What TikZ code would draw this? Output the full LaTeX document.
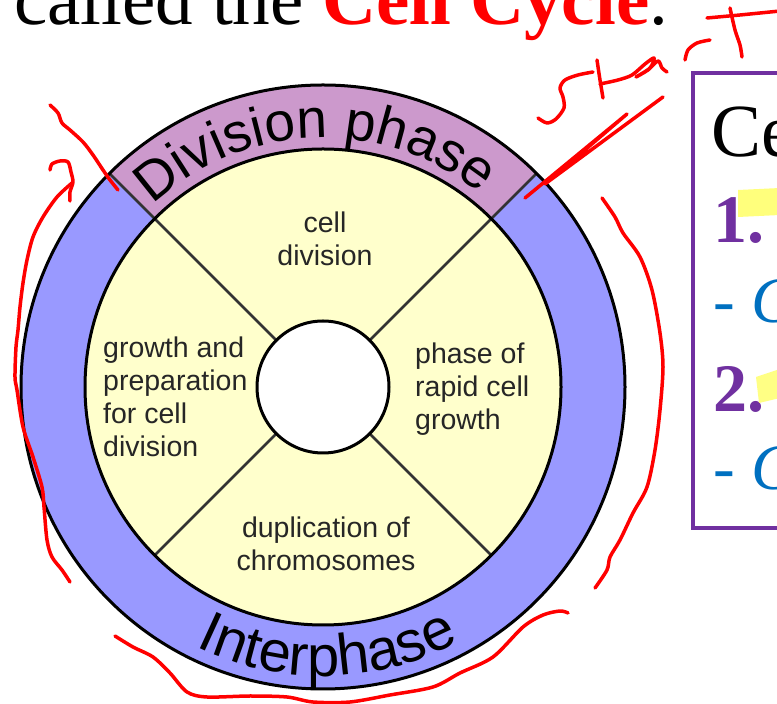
\documentclass[tikz,border=0pt]{standalone}
\usepackage{fontspec}
\setmainfont{Liberation Serif}
\newfontfamily\arial{Liberation Sans}
\usetikzlibrary{decorations.text}
\definecolor{DivPurple}{RGB}{204,153,204}
\definecolor{InterBlue}{RGB}{153,153,255}
\definecolor{CellYellow}{RGB}{255,255,204}
\definecolor{SlidePurple}{RGB}{112,48,160}
\definecolor{SlideBlue}{RGB}{0,112,192}
\definecolor{PenRed}{RGB}{255,0,0}
\definecolor{Marker}{RGB}{255,255,102}
\newcommand{\phasefont}{\arial\fontsize{55}{55}\selectfont}
\newcommand{\interfont}{\arial\fontsize{58}{58}\selectfont}
\newcommand{\notefont}{\arial\fontsize{28.5}{33}\selectfont}
\tikzset{
  ringline/.style={line width=3pt, black},
  spoke/.style={line width=2.5pt, black!80},
  cellnote/.style={font=\notefont, text=black!85, inner sep=0pt},
  slidetext/.style={anchor=base west, inner sep=0pt},
  ink/.style={line width=3.5pt, PenRed, line cap=round, line join=round},
}
\begin{document}
\begin{tikzpicture}[x=1pt, y=1pt]
\useasboundingbox (0,0) rectangle (777,704);
\fill[white] (0,0) rectangle (777,704);

% slide title, cut at the top
\node[slidetext, font=\fontsize{75}{75}\selectfont] (title) at (14,679)
  {called the \textcolor{red}{\textbf{Cell Cycle}}.};

% cycle wheel
\coordinate (c) at (323,317);
\fill[InterBlue] (c) circle (302);
\fill[DivPurple] (c) -- ++(45:302) arc[start angle=45, end angle=135, radius=302] -- cycle;
\fill[CellYellow] (c) circle (238);
\foreach \a in {45,135,225,315}
  \draw[spoke] (c) ++(\a:66) -- ++(\a:172);
\foreach \a in {45,135}
  \draw[spoke] (c) ++(\a:238) -- ++(\a:64);
\draw[ringline] (c) circle (302);
\draw[ringline] (c) circle (238);
\draw[ringline, fill=white] (c) circle (66);

% band labels
\path[decorate, decoration={text along path, text align=center,
  text={|\phasefont|Division phase}}]
  (c) ++(137:249) arc[start angle=137, end angle=47, radius=249];
\path[decorate, decoration={text along path, text align=center,
  text={|\interfont|Interphase}}]
  (c) ++(241:289) arc[start angle=241, end angle=301, radius=289];

% quarter labels
\node[cellnote, anchor=north, align=center] (celldiv) at (325,492) {cell\\division};
\node[cellnote, anchor=north west, align=left] (prep) at (103,367)
  {growth and\\preparation\\for cell\\division};
\node[cellnote, anchor=north west, align=left] (rapid) at (415,361)
  {phase of\\rapid cell\\growth};
\node[cellnote, anchor=north, align=center] (dup) at (326,187)
  {duplication of\\chromosomes};

% box on the right, cut at the edge
\draw[line width=3.5pt, SlidePurple] (693,631) rectangle (830,176);
\node[slidetext, font=\fontsize{75}{75}\selectfont] (boxhead) at (711,547) {Ce};
\node[slidetext, font=\fontsize{68}{68}\selectfont, text=SlidePurple] (one) at (713,461) {\textbf{1.}};
\node[slidetext, font=\fontsize{65}{65}\selectfont, text=SlideBlue] (onedash) at (713,381) {\textit{- C}};
\node[slidetext, font=\fontsize{68}{68}\selectfont, text=SlidePurple] (two) at (713,292) {\textbf{2.}};
\node[slidetext, font=\fontsize{65}{65}\selectfont, text=SlideBlue] (twodash) at (713,214) {\textit{- C}};
\fill[Marker, opacity=0.85] (738,514) -- (780,516) -- (780,489) -- (738,487) -- cycle;
\fill[Marker, opacity=0.8] (756,327) -- (780,335) -- (780,306) -- (759,301) -- cycle;

% red pen marks (pixel coordinates, y down)
\begin{scope}[shift={(0,704)}, yscale=-1]
  % start
  \draw[ink] plot[smooth] coordinates {(538,118) (547,123) (556,119) (564,108) (563,97) (560,88) (565,80) (578,75) (593,72)};
  \draw[ink] plot[smooth] coordinates {(597,60) (600,80) (603,98)};
  \draw[ink] plot[smooth] coordinates {(600,84) (618,80) (632,75) (645,64) (654,58) (650,68) (636,77) (648,70) (658,61) (662,68) (667,72)};
  \draw[ink] plot[smooth] coordinates {(685,60) (688,50) (697,43) (710,40)};
  \draw[ink] (707,18) -- (740,15) -- (790,10);
  \draw[ink] plot[smooth] coordinates {(730,8) (735,30) (740,45) (742,57)};
  \draw[ink] (525,198) -- (627,114) -- (545,184) -- (663,97);
  % left marks
  \draw[ink] plot[smooth] coordinates {(50,105) (58,113) (62,123) (70,130) (83,142) (93,155) (103,170) (110,180) (118,190)};
  \draw[ink] plot[smooth] coordinates {(50,170) (52,164) (60,161) (68,162) (71,172) (73,182) (70,192) (70,201)};
  \draw[ink] plot[smooth] coordinates {(72,183) (57,197) (43,217) (33,237) (27,260) (23,283) (20,307) (18,330) (16,347) (15,377) (17,390) (23,427) (33,457) (42,487) (44,507) (47,540) (52,557) (62,570) (70,582)};
  % bottom mark
  \draw[ink] plot[smooth] coordinates {(115,636) (133,647) (153,657) (170,673) (187,692) (207,697) (250,696) (287,697) (313,702) (350,702) (390,695) (433,687) (460,673) (493,657) (523,627) (543,615) (560,611) (568,613)};
  % right mark
  \draw[ink] plot[smooth] coordinates {(602,198) (615,217) (623,233) (640,257) (652,290) (660,333) (663,367) (660,410) (655,450) (647,487) (633,513) (620,540) (610,557) (607,570) (595,588)};
\end{scope}
\end{tikzpicture}
\end{document}
